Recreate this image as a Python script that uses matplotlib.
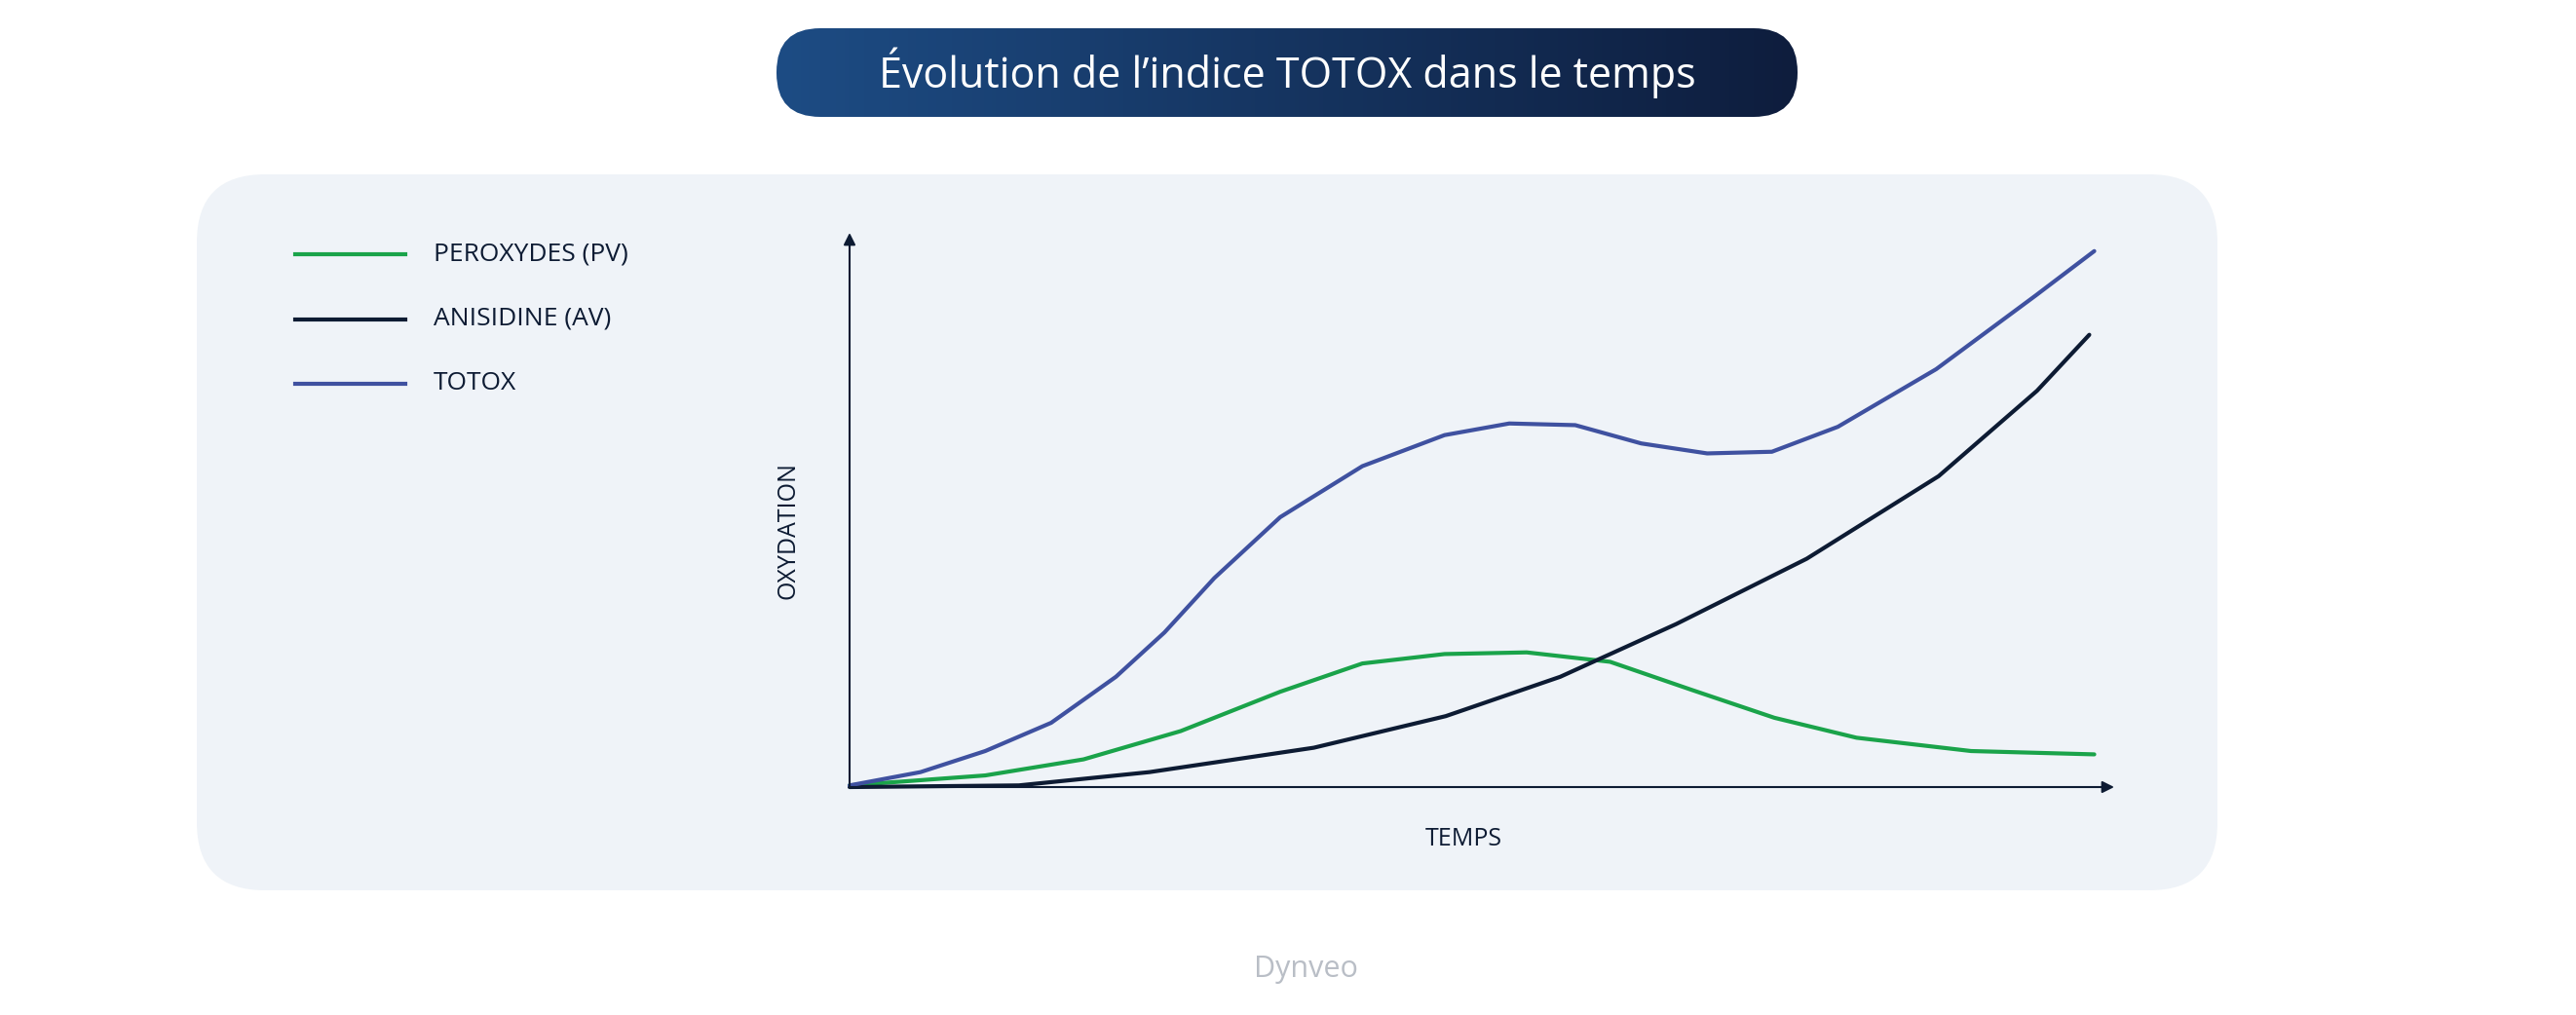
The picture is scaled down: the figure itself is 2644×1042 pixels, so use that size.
import numpy as np
import matplotlib.pyplot as plt
from matplotlib.patches import FancyBboxPatch
from matplotlib.colors import LinearSegmentedColormap

# time (0-100) and oxidation level (0-100)
t_pv = [0, 10.9, 18.8, 26.6, 34.6, 41.2, 47.8, 54.4, 61.1, 67.7, 74.3, 80.9, 90.1, 100]
pv = [0.3, 2.1, 5.0, 10.1, 17.2, 22.3, 24.0, 24.3, 22.6, 17.5, 12.5, 8.9, 6.5, 5.9]

t_av = [0, 13.6, 24.1, 37.3, 47.9, 57.1, 66.4, 76.9, 87.5, 95.4, 99.6]
av = [0, 0.3, 2.7, 7.1, 12.8, 19.9, 29.4, 41.2, 56.1, 71.5, 81.6]

t_totox = [0, 5.7, 10.9, 16.2, 21.4, 25.3, 29.3, 34.6, 41.2, 47.8, 53.0, 58.3,
           63.6, 68.9, 74.1, 79.4, 87.3, 95.3, 100]
totox = [0.3, 2.7, 6.5, 11.6, 19.9, 27.9, 37.7, 48.7, 57.9, 63.5, 65.6, 65.3,
         62.0, 60.2, 60.5, 65.0, 75.4, 88.7, 96.7]

labels = ["PEROXYDES (PV)", "ANISIDINE (AV)", "TOTOX"]
colors = ["#1aa34a", "#0d1b33", "#3f51a0"]

plt.rcParams["font.family"] = "Open Sans"

W, H = 2644, 1042
fig = plt.figure(figsize=(W / 100, H / 100), dpi=100)
fig.patch.set_facecolor("white")


def fx(px):
    return px / W


def fy(py):
    return 1 - py / H


# background axes in pixel coordinates
bg = fig.add_axes([0, 0, 1, 1], zorder=-1)
bg.set_xlim(0, W)
bg.set_ylim(H, 0)
bg.axis("off")
bg.add_patch(FancyBboxPatch((202, 179), 2276 - 202, 914 - 179,
                            boxstyle="round,pad=0,rounding_size=70",
                            facecolor="#eff3f8", edgecolor="none"))

# legend
for i, (lab, c) in enumerate(zip(labels, colors)):
    ly = 261 + i * 66.5
    bg.plot([303, 416], [ly, ly], color=c, lw=3)
    bg.text(445, ly, lab, ha="left", va="center", fontsize=19, color="#0d1b33")

bg.text(809, 545, "OXYDATION", rotation=90, ha="center", va="center",
        fontsize=18, color="#0d1b33")
bg.text(1502, 862, "TEMPS", ha="center", va="center", fontsize=18, color="#0d1b33")
bg.text(1340, 995, "Dynveo", ha="center", va="center", fontsize=22, color="#b9bec6")

# title pill with gradient
pw, ph = 1845 - 797, 120 - 29
tax = fig.add_axes([fx(797), fy(120), fx(pw), ph / H])
tax.set_xlim(0, pw)
tax.set_ylim(0, ph)
tax.axis("off")
grad = np.linspace(0, 1, 256).reshape(1, -1)
cmap = LinearSegmentedColormap.from_list("g", ["#1d4c84", "#0e1d3d"])
im = tax.imshow(grad, cmap=cmap, extent=[0, pw, 0, ph], aspect="auto")
pill = FancyBboxPatch((0, 0), pw, ph, boxstyle="round,pad=0,rounding_size=45",
                      facecolor="none", edgecolor="none")
tax.add_patch(pill)
im.set_clip_path(pill)
tax.text(pw / 2, ph / 2, "Évolution de l’indice TOTOX dans le temps", color="white",
         fontsize=31, ha="center", va="center")

# main axes
ax = fig.add_axes([fx(872), fy(808), fx(2170 - 872), (808 - 239) / H], zorder=2)
ax.set_facecolor("none")
ax.set_xlim(0, 101.6)
ax.set_ylim(0, 100)
for s in ax.spines.values():
    s.set_visible(False)
ax.set_xticks([])
ax.set_yticks([])
for end in [(1, 0), (0, 1)]:
    ax.annotate("", xy=end, xytext=(0, 0), xycoords="axes fraction",
                arrowprops=dict(arrowstyle="-|>", color="#0d1b33", lw=1.5,
                                mutation_scale=18, shrinkA=0, shrinkB=0))

for tt, yy, c in [(t_pv, pv, colors[0]), (t_av, av, colors[1]), (t_totox, totox, colors[2])]:
    ax.plot(tt, yy, color=c, lw=3, solid_capstyle="round", solid_joinstyle="round",
            clip_on=False)

fig.savefig("out.png", dpi=100)
